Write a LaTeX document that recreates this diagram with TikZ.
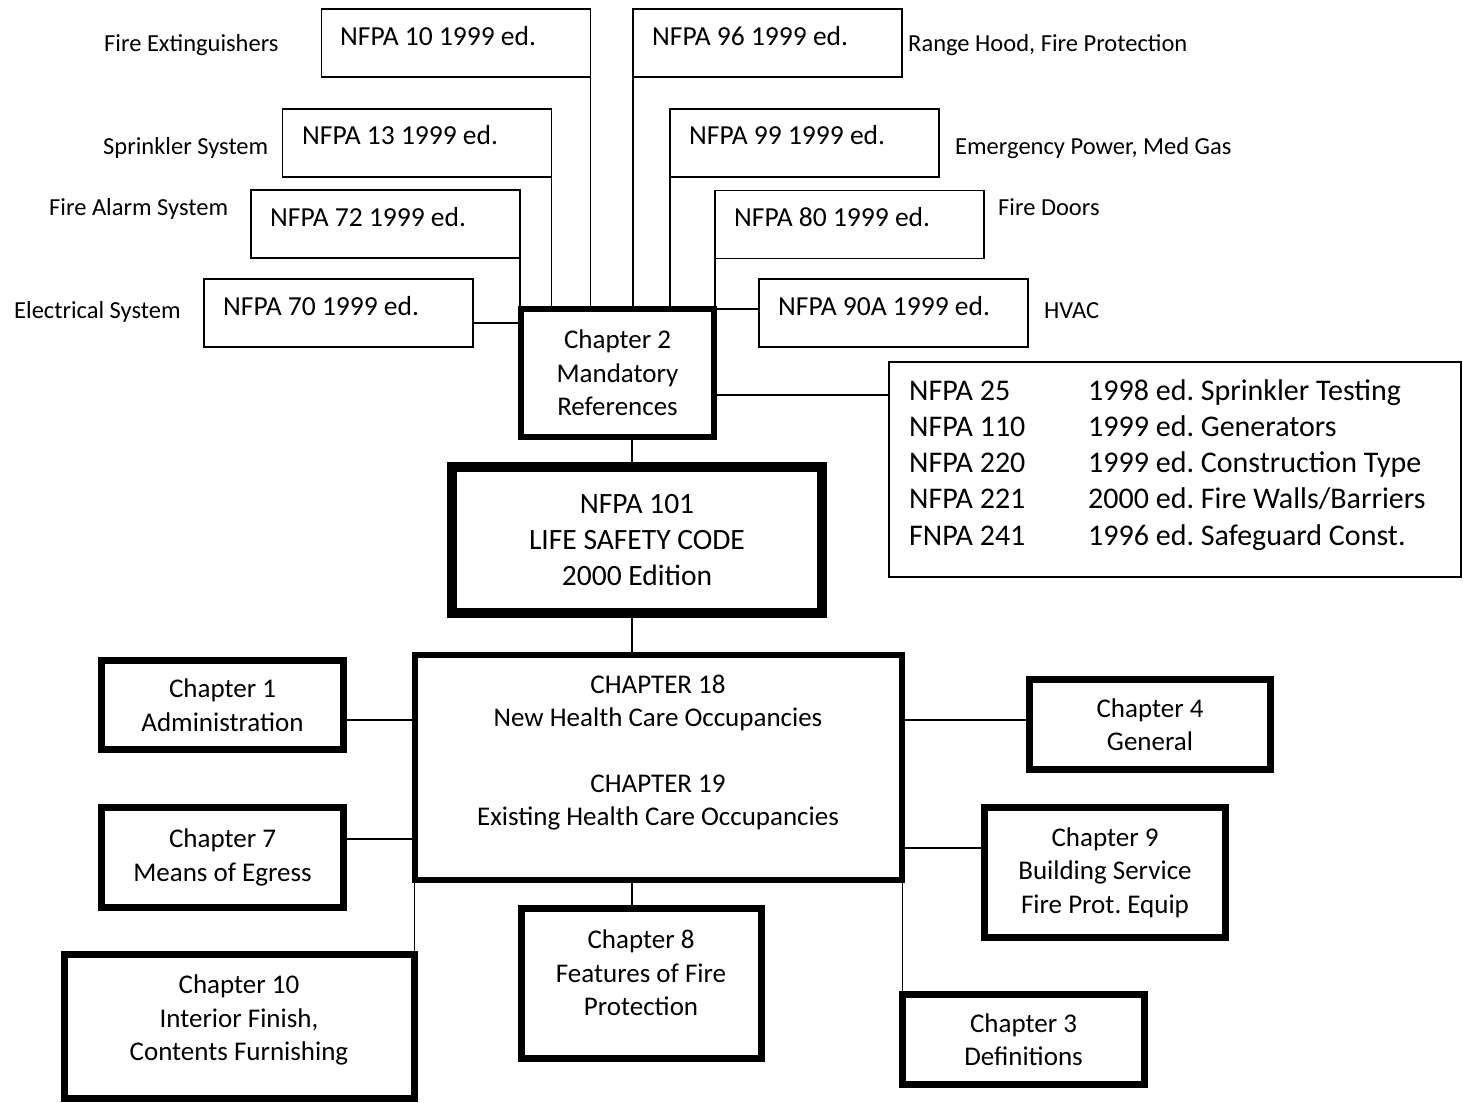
\documentclass[tikz,border=0pt]{standalone}
\usepackage{fontspec}
\setmainfont{Carlito}
\frenchspacing
\begin{document}
\begin{tikzpicture}[x=1pt,y=-1pt,
  refbox/.style={draw, line width=1.8pt, minimum width=269pt, minimum height=68pt, inner sep=0pt, outer sep=0pt},
  thickbox/.style={draw, line width=6.5pt, inner sep=0pt, outer sep=0pt, align=center, font=\fontsize{27}{33.5}\selectfont},
  boxtxt/.style={anchor=mid west, inner sep=0pt, font=\fontsize{27.5}{33}\selectfont},
  sidetxt/.style={anchor=mid west, inner sep=0pt, font=\fontsize{24.5}{29}\selectfont},
  tbltxt/.style={anchor=mid west, inner sep=0pt, font=\fontsize{30}{36}\selectfont},
  ctxt/.style={align=center, inner sep=0pt},
  conn/.style={line width=1.8pt}]
\useasboundingbox (0,0) rectangle (1463,1102);
\fill[white] (0,0) rectangle (1463,1102);

% ---- top reference boxes
\node[refbox] (n10) at (456,43) {};
\node[boxtxt] (t10) at (340,43) {NFPA 10 1999 ed.};
\node[refbox] (n96) at (767.5,43) {};
\node[boxtxt] (t96) at (652,43) {NFPA 96 1999 ed.};
\node[refbox] (n13) at (417,143) {};
\node[boxtxt] (t13) at (302,142) {NFPA 13 1999 ed.};
\node[refbox] (n99) at (804.5,143) {};
\node[boxtxt] (t99) at (689,142) {NFPA 99 1999 ed.};
\node[refbox] (n72) at (385.5,224) {};
\node[boxtxt] (t72) at (270,224) {NFPA 72 1999 ed.};
\node[refbox] (n80) at (849.5,224.5) {};
\node[boxtxt] (t80) at (734,224) {NFPA 80 1999 ed.};
\node[refbox] (n70) at (338.5,313) {};
\node[boxtxt] (t70) at (223,313) {NFPA 70 1999 ed.};
\node[refbox] (n90) at (893.5,313) {};
\node[boxtxt] (t90) at (778,313) {NFPA 90A 1999 ed.};

% ---- side labels
\node[sidetxt] (l10) at (104,49) {Fire Extinguishers};
\node[sidetxt] (l13) at (103,152) {Sprinkler System};
\node[sidetxt] (l72) at (49,213) {Fire Alarm System};
\node[sidetxt] (l70) at (14,316) {Electrical System};
\node[sidetxt] (l96) at (908,49) {Range Hood, Fire Protection};
\node[sidetxt] (l99) at (955,152) {Emergency Power, Med Gas};
\node[sidetxt] (l80) at (998,213) {Fire Doors};
\node[sidetxt] (l90) at (1044,316) {HVAC};

% ---- chapter 2
\node[thickbox, minimum width=193pt, minimum height=128pt] (ch2) at (617.5,373) {Chapter 2\\Mandatory\\References};

% ---- table box
\node[draw, line width=1.8pt, outer sep=0pt, minimum width=572pt, minimum height=215pt, inner sep=0pt] (tbl) at (1175,469.5) {};
\node[tbltxt] (r1a) at (909,398) {NFPA 25};
\node[tbltxt] (r1b) at (1088,398) {1998 ed. Sprinkler Testing};
\node[tbltxt] (r2a) at (909,434) {NFPA 110};
\node[tbltxt] (r2b) at (1088,434) {1999 ed. Generators};
\node[tbltxt] (r3a) at (909,470) {NFPA 220};
\node[tbltxt] (r3b) at (1088,470) {1999 ed. Construction Type};
\node[tbltxt] (r4a) at (909,506) {NFPA 221};
\node[tbltxt] (r4b) at (1088,506) {2000 ed. Fire Walls/Barriers};
\node[tbltxt] (r5a) at (909,543) {FNPA 241};
\node[tbltxt] (r5b) at (1088,543) {1996 ed. Safeguard Const.};

% ---- NFPA 101
\node[thickbox, line width=10pt, minimum width=370pt, minimum height=146pt, font=\fontsize{29.5}{36}\selectfont] (nf101) at (637,540) {NFPA 101\\LIFE SAFETY CODE\\2000 Edition};

% ---- chapter 18/19
\node[thickbox, minimum width=487pt, minimum height=225pt] (ch18) at (658.5,767.5) {};
\node[ctxt, font=\fontsize{27}{33}\selectfont] (t18) at (658,753) {CHAPTER 18\\New Health Care Occupancies\\[33pt]CHAPTER 19\\Existing Health Care Occupancies};

% ---- other chapters
\node[thickbox, minimum width=242pt, minimum height=89pt] (ch1) at (222.5,705) {Chapter 1\\Administration};
\node[thickbox, minimum width=242pt, minimum height=100pt] (ch7) at (222.5,857.5) {Chapter 7\\Means of Egress};
\node[thickbox, minimum width=350pt, minimum height=144pt] (ch10) at (239.5,1026.5) {};
\node[ctxt, font=\fontsize{27}{33.5}\selectfont] (t10c) at (239,1020) {Chapter 10\\Interior Finish,\\Contents Furnishing};
\node[thickbox, minimum width=240pt, minimum height=150pt] (ch8) at (641.5,983.5) {};
\node[ctxt, font=\fontsize{27}{33.5}\selectfont] (t8c) at (641,973) {Chapter 8\\Features of Fire\\Protection};
\node[thickbox, minimum width=241pt, minimum height=90pt] (ch4) at (1150,724.5) {Chapter 4\\General};
\node[thickbox, minimum width=241pt, minimum height=130pt] (ch9) at (1105,872.5) {Chapter 9\\Building Service\\Fire Prot. Equip};
\node[thickbox, minimum width=242pt, minimum height=90pt] (ch3) at (1023.5,1039.5) {Chapter 3\\Definitions};

\coordinate (spine) at (632,0);

% ---- connectors top
\draw[conn] (n10.south east) -- (n10.south east |- ch2.north);
\draw[conn] (n13.south east) -- (n13.south east |- ch2.north);
\draw[conn] (n72.south east) -- (n72.south east |- ch2.north);
\draw[conn] ([yshift=-10pt]n70.east) -- ([yshift=-10pt]n70.east -| ch2.west);
\draw[conn] (n96.south west) -- (n96.south west |- ch2.north);
\draw[conn] (n99.south west) -- (n99.south west |- ch2.north);
\draw[conn] (n80.south west) -- (n80.south west |- ch2.north);
\draw[conn] ([yshift=4pt]n90.west) -- ([yshift=4pt]n90.west -| ch2.east);
\draw[conn] ([yshift=-22pt]ch2.east) -- ([yshift=-22pt]ch2.east -| tbl.west);

% ---- spine
\draw[conn] (ch2.south -| spine) -- (nf101.north -| spine);
\draw[conn] (nf101.south -| spine) -- (ch18.north -| spine);
\draw[conn] (ch18.south -| spine) -- (ch8.north -| spine);

% ---- chapter connectors
\draw[conn] ([yshift=-15pt]ch1.east) -- ([yshift=-15pt]ch1.east -| ch18.west);
\draw[conn] ([yshift=18.5pt]ch7.east) -- ([yshift=18.5pt]ch7.east -| ch18.west);
\draw[conn] (ch10.north east) -- (ch10.north east |- ch18.south);
\draw[conn] ([yshift=4.5pt]ch4.west) -- ([yshift=4.5pt]ch4.west -| ch18.east);
\draw[conn] ([yshift=24.5pt]ch9.west) -- ([yshift=24.5pt]ch9.west -| ch18.east);
\draw[conn] (ch3.north west) -- (ch3.north west |- ch18.south);
\end{tikzpicture}
\end{document}
